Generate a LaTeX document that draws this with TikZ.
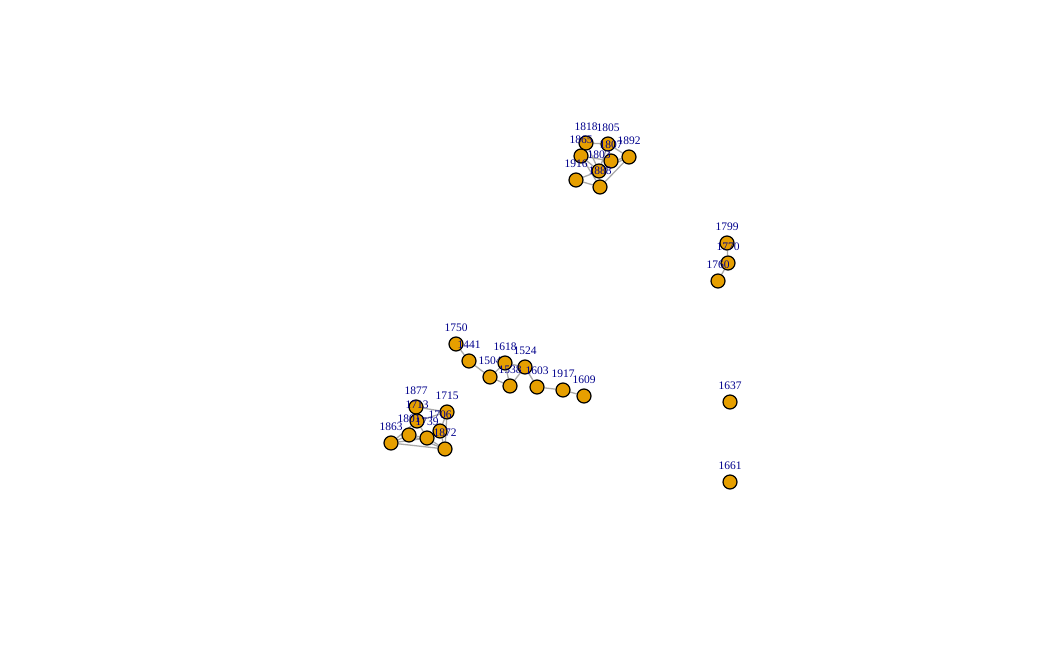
\documentclass[tikz,border=0pt]{standalone}
\usepackage{fontspec}
\setmainfont{Liberation Serif}
\usetikzlibrary{backgrounds}

\definecolor{vfill}{HTML}{E69F00}
\definecolor{vlab}{HTML}{00008B}
\definecolor{vedge}{HTML}{A9A9A9}

\begin{document}
\begin{tikzpicture}[
  x=1pt, y=-1pt,
  vert/.style={circle, draw=black, fill=vfill, line width=1.2pt, minimum size=14pt, inner sep=0pt},
  lbl/.style={font=\fontsize{11.5}{11.5}\selectfont, text=vlab, inner sep=0pt},
  every label/.style={lbl},
  label distance=4.5pt,
  link/.style={draw=vedge, line width=1.3pt},
]
  \useasboundingbox (0,0) rectangle (1062,656);

  % upper cluster
  \node[vert, label=90:1818] (n1818) at (586,143) {};
  \node[vert, label=90:1805] (n1805) at (608,144) {};
  \node[vert, label=90:1865] (n1865) at (581,156) {};
  \node[vert, label=90:1892] (n1892) at (629,157) {};
  \node[vert, label=90:1807] (n1807) at (611,161) {};
  \node[vert, label=90:1803] (n1803) at (599,171) {};
  \node[vert, label=90:1916] (n1916) at (576,180) {};
  \node[vert, label=90:1888] (n1888) at (600,187) {};

  % right pair
  \node[vert, label=90:1799] (n1799) at (727,243) {};
  \node[vert, label=90:1770] (n1770) at (728,263) {};
  \node[vert, label=90:1760] (n1760) at (718,281) {};

  % chain
  \node[vert, label=90:1750] (n1750) at (456,344) {};
  \node[vert, label=90:1441] (n1441) at (469,361) {};
  \node[vert, label=90:1504] (n1504) at (490,377) {};
  \node[vert, label=90:1618] (n1618) at (505,363) {};
  \node[vert, label=90:1524] (n1524) at (525,367) {};
  \node[vert, label=90:1538] (n1538) at (510,386) {};
  \node[vert, label=90:1603] (n1603) at (537,387) {};
  \node[vert, label=90:1917] (n1917) at (563,390) {};
  \node[vert, label=90:1609] (n1609) at (584,396) {};

  % lower cluster
  \node[vert, label=90:1877] (n1877) at (416,407) {};
  \node[vert, label=90:1713] (n1713) at (417,421) {};
  \node[vert, label=90:1715] (n1715) at (447,412) {};
  \node[vert, label=90:1706] (n1706) at (440,431) {};
  \node[vert, label=90:1801] (n1801) at (409,435) {};
  \node[vert, label=90:1739] (n1739) at (427,438) {};
  \node[vert, label=90:1863] (n1863) at (391,443) {};
  \node[vert, label=90:1872] (n1872) at (445,449) {};

  % isolates
  \node[vert, label=90:1637] (n1637) at (730,402) {};
  \node[vert, label=90:1661] (n1661) at (730,482) {};

  \begin{scope}[on background layer]
    \foreach \a/\b in {1818/1805, 1818/1865, 1818/1803, 1805/1892, 1805/1807, 1805/1803,
                       1865/1803, 1865/1807, 1892/1807, 1892/1888, 1892/1803, 1807/1803,
                       1803/1916, 1803/1888, 1916/1888, 1865/1888}
      \draw[link] (n\a) -- (n\b);
    \foreach \a/\b in {1799/1770, 1770/1760}
      \draw[link] (n\a) -- (n\b);
    \foreach \a/\b in {1750/1441, 1441/1504, 1504/1618, 1504/1538, 1618/1538, 1618/1524,
                       1524/1538, 1524/1603, 1603/1917, 1917/1609}
      \draw[link] (n\a) -- (n\b);
    \foreach \a/\b in {1877/1713, 1877/1715, 1713/1715, 1713/1801, 1713/1739, 1713/1863,
                       1715/1706, 1715/1872, 1706/1739, 1706/1872, 1801/1739, 1801/1863,
                       1801/1872, 1739/1872, 1863/1872, 1863/1739}
      \draw[link] (n\a) -- (n\b);
  \end{scope}
\end{tikzpicture}
\end{document}
